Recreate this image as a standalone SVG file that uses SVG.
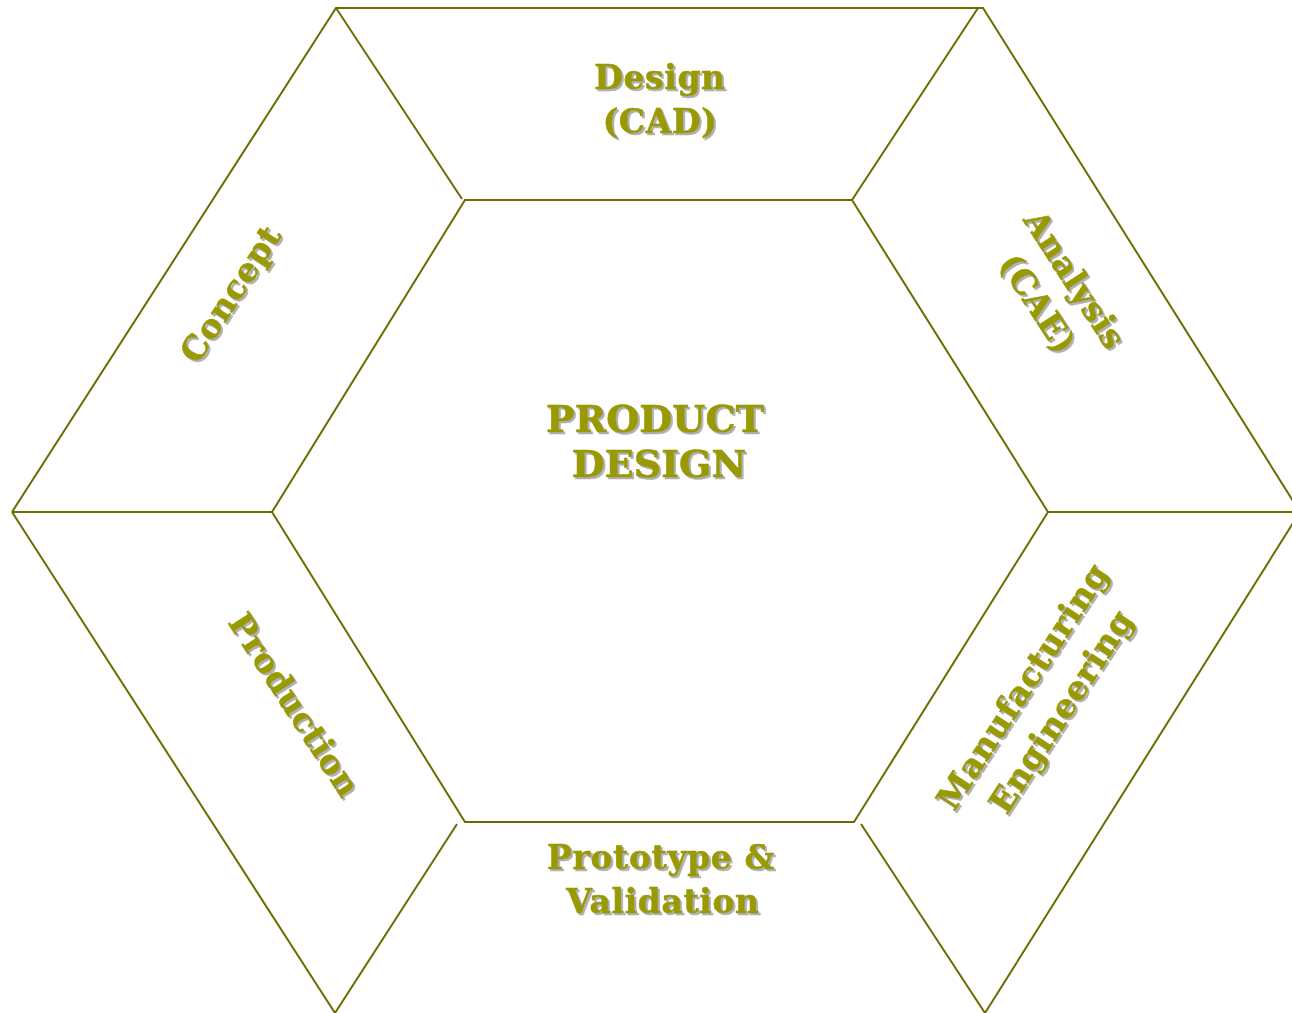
<svg xmlns="http://www.w3.org/2000/svg" width="1292" height="1013" viewBox="0 0 1292 1013">
<style>
.ln{stroke:#6b6b00;stroke-width:2;fill:none;stroke-linejoin:miter}
.lbl{font-family:"DejaVu Serif","Liberation Serif",serif;font-weight:bold;font-size:33px;letter-spacing:0.6px;fill:#999900;stroke:#999900;stroke-width:0.6;text-anchor:middle}
.big{font-size:38px;letter-spacing:0}
</style>
<defs>
<filter id="sh" x="-20%" y="-20%" width="140%" height="140%">
<feDropShadow dx="2" dy="2" stdDeviation="0.6" flood-color="#a8a8a8" flood-opacity="0.9"/>
</filter>
</defs>
<rect width="1292" height="1013" fill="#ffffff"/>
<g id="connectors">
<polyline class="ln" points="12,512 336,8 983,8 1300,512 985,1013"/>
<polyline class="ln" points="12,512 335,1013"/>
<polygon class="ln" points="465,200 852,200 1048,512 854,822 465,822 272,512"/>
<line class="ln" x1="12" y1="512" x2="272" y2="512"/>
<line class="ln" x1="1048" y1="512" x2="1300" y2="512"/>
<line class="ln" x1="336" y1="8" x2="462" y2="199"/>
<line class="ln" x1="978" y1="8" x2="852" y2="200"/>
<line class="ln" x1="457" y1="824" x2="335" y2="1013"/>
<line class="ln" x1="861" y1="824" x2="985" y2="1013"/>
</g>
<g id="center" filter="url(#sh)">
<text class="lbl big" x="655" y="432">PRODUCT</text>
<text class="lbl big" x="659" y="477">DESIGN</text>
</g>
<g id="design" filter="url(#sh)">
<text class="lbl" x="660" y="89">Design</text>
<text class="lbl" x="660" y="133">(CAD)</text>
</g>
<g id="prototype" filter="url(#sh)">
<text class="lbl" x="661" y="869">Prototype &amp;</text>
<text class="lbl" x="663" y="913">Validation</text>
</g>
<g id="concept" filter="url(#sh)">
<g transform="translate(231,294) rotate(-57)"><text class="lbl" x="0" y="11">Concept</text></g>
</g>
<g id="production" filter="url(#sh)">
<g transform="translate(294,705) rotate(57)"><text class="lbl" x="0" y="11">Production</text></g>
</g>
<g id="analysis" filter="url(#sh)">
<g transform="translate(1056,292) rotate(57)">
<text class="lbl" x="0" y="-11">Analysis</text>
<text class="lbl" x="0" y="33">(CAE)</text>
</g>
</g>
<g id="manufacturing" filter="url(#sh)">
<g transform="translate(1042,699) rotate(-57)">
<text class="lbl" x="0" y="-12">Manufacturing</text>
<text class="lbl" x="0" y="34">Engineering</text>
</g>
</g>
</svg>
